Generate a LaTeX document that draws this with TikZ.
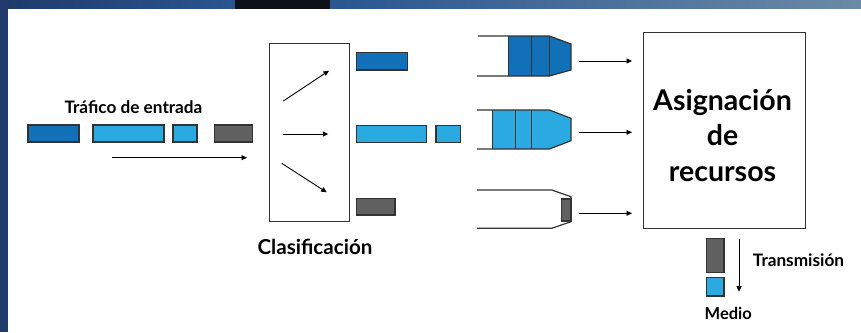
\documentclass[tikz,border=0pt]{standalone}
\usepackage{fontspec}
\setmainfont{Lato}
\usetikzlibrary{arrows.meta}
\definecolor{dblue}{HTML}{1170B8}
\definecolor{lblue}{HTML}{2BA9E1}
\definecolor{pgrey}{HTML}{616161}
\definecolor{edge}{HTML}{333333}
\definecolor{bgblue}{HTML}{1F3A6B}
\definecolor{bgblueb}{HTML}{2A5590}
\definecolor{bgdark}{HTML}{0E1118}
\definecolor{bggrey}{HTML}{6A8AA6}
\begin{document}
\begin{tikzpicture}[x=1pt,y=-1pt,
  pkt/.style={draw=edge, line width=1.2pt, inner sep=0pt, outer sep=0pt},
  qline/.style={draw=edge, line width=1.2pt, line join=miter},
  arr/.style={line width=0.9pt, -{Triangle[length=5.5pt,width=5pt]}},
  lbl/.style={font=\bfseries, text=black, inner sep=0pt}]
\useasboundingbox (0,0) rectangle (861,332);
% background
\fill[bgblue] (0,0) rectangle (861,332);
\shade[left color=bgblue, right color=bgblueb] (0,0) rectangle (235,9);
\fill[bgdark] (235,0) rectangle (330,9);
\shade[left color=bgblueb, right color=bggrey] (330,0) rectangle (861,9);
\fill[white] (8,9) rectangle (861,332);

% incoming traffic
\node[lbl, font=\bfseries\fontsize{17.2}{19}\selectfont, anchor=base] (trafico) at (133.5,113.3) {Tráfico de entrada};
\node[pkt, fill=dblue, minimum width=51pt, minimum height=17pt] (in1) at (53.5,133.5) {};
\node[pkt, fill=lblue, minimum width=71pt, minimum height=17pt] (in2) at (128.5,133.5) {};
\node[pkt, fill=lblue, minimum width=24pt, minimum height=17pt] (in3) at (185,133.5) {};
\node[pkt, fill=pgrey, minimum width=38pt, minimum height=17pt] (in4) at (233.3,133.5) {};
\coordinate (ia1) at (112,157.7);
\coordinate (ia2) at (247,157.7);
\draw[arr] (ia1) -- (ia2);

% classification
\node[pkt, fill=white, minimum width=80pt, minimum height=178pt] (cls) at (309.3,132.2) {};
\coordinate (c1a) at (283.3,101); \coordinate (c1b) at (329,70.7);
\coordinate (c2a) at (282.7,134); \coordinate (c2b) at (328.3,134);
\coordinate (c3a) at (281.7,163.3); \coordinate (c3b) at (326.7,192.3);
\draw[arr] (c1a) -- (c1b);
\draw[arr] (c2a) -- (c2b);
\draw[arr] (c3a) -- (c3b);
\node[lbl, font=\bfseries\fontsize{20.6}{23}\selectfont, anchor=base] (clasif) at (315,254) {Clasificación};

% classified packets
\node[pkt, fill=dblue, minimum width=50.6pt, minimum height=17.3pt] (o1) at (382,61.3) {};
\node[pkt, fill=lblue, minimum width=70pt, minimum height=17pt] (o2) at (391.7,134.2) {};
\node[pkt, fill=lblue, minimum width=24.7pt, minimum height=17pt] (o3) at (448.3,134.2) {};
\node[pkt, fill=pgrey, minimum width=38.3pt, minimum height=16.7pt] (o4) at (375.8,206.7) {};

% queue 1
\fill[dblue] (508.3,36) -- (549.3,36) -- (571,44) -- (571,70) -- (549.3,76) -- (508.3,76) -- cycle;
\draw[qline] (478,36) -- (549.3,36) -- (571,44) -- (571,70) -- (549.3,76) -- (477,76);
\draw[qline] (508.3,36) -- (508.3,76);
\draw[qline] (531.7,36) -- (531.7,76);
\draw[qline] (549.3,36) -- (549.3,76);
% queue 2
\fill[lblue] (492.3,110) -- (549.3,110) -- (571,118.3) -- (571,140.7) -- (549.3,149) -- (492.3,149) -- cycle;
\draw[qline] (477,110) -- (549.3,110) -- (571,118.3) -- (571,140.7) -- (549.3,149) -- (477,149);
\draw[qline] (492.3,110) -- (492.3,149);
\draw[qline] (515.7,110) -- (515.7,149);
\draw[qline] (531.7,110) -- (531.7,149);
% queue 3
\draw[qline] (477,190) -- (551.7,190) -- (571,196.7) -- (571,221.7) -- (551.7,228.3) -- (477,228.3);
\node[pkt, fill=pgrey, minimum width=9.3pt, minimum height=22pt] (q3p) at (566.3,210) {};

% queue outputs
\coordinate (qa1) at (579,61);    \coordinate (qb1) at (632,61);
\coordinate (qa2) at (579,132.3); \coordinate (qb2) at (632,132.3);
\coordinate (qa3) at (579,213.3); \coordinate (qb3) at (632,213.3);
\draw[arr] (qa1) -- (qb1);
\draw[arr] (qa2) -- (qb2);
\draw[arr] (qa3) -- (qb3);

% resource allocation
\node[pkt, fill=white, minimum width=162.4pt, minimum height=196pt] (res) at (724.5,130.3) {};
\node[lbl, font=\bfseries\fontsize{28.5}{31}\selectfont, anchor=base] (res1) at (722.5,110) {Asignación};
\node[lbl, font=\bfseries\fontsize{28.5}{31}\selectfont, anchor=base] (res2) at (722.5,145) {de};
\node[lbl, font=\bfseries\fontsize{28.5}{31}\selectfont, anchor=base] (res3) at (722.5,181.7) {recursos};

% transmission
\node[pkt, fill=pgrey, minimum width=17.3pt, minimum height=34.4pt] (t1) at (715.3,255.5) {};
\node[pkt, fill=lblue, minimum width=17.3pt, minimum height=18.3pt] (t2) at (715.3,286.8) {};
\coordinate (ta) at (739,239.3); \coordinate (tb) at (739,291.7);
\draw[arr] (ta) -- (tb);
\node[lbl, font=\bfseries\fontsize{17.2}{19}\selectfont, anchor=base west] (trans) at (752.7,266) {Transmisión};
\node[lbl, font=\bfseries\fontsize{16.5}{18}\selectfont, anchor=base] (medio) at (728.3,319) {Medio};
\end{tikzpicture}
\end{document}
